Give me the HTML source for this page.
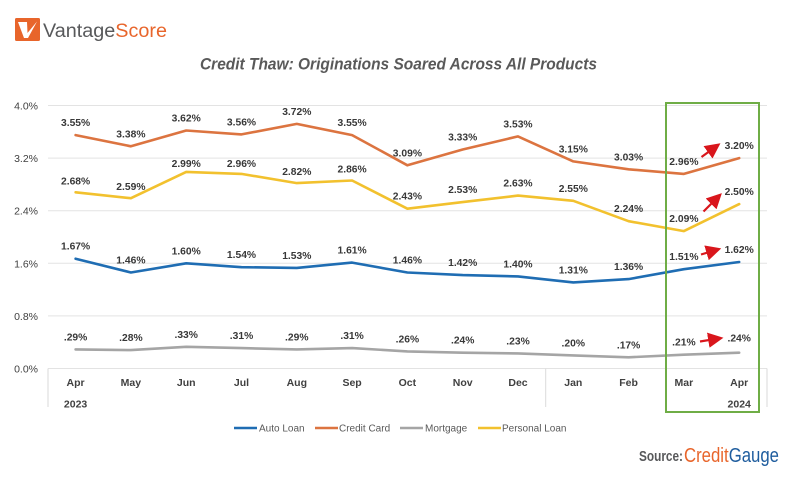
<!DOCTYPE html>
<html>
<head>
<meta charset="utf-8">
<style>
html,body{margin:0;padding:0;background:#fff;}
svg{display:block;}
text{font-family:"Liberation Sans",sans-serif;}
</style>
</head>
<body>
<svg width="794" height="480" viewBox="0 0 794 480" xmlns="http://www.w3.org/2000/svg">
<defs>
<marker id="ah" markerWidth="7" markerHeight="7" refX="4.5" refY="3.5" orient="auto" markerUnits="strokeWidth">
<path d="M0,0 L7,3.5 L0,7 z" fill="#d9161c"/>
</marker>
</defs>
<rect width="794" height="480" fill="#fff"/>

<!-- Logo -->
<rect x="15" y="18" width="25" height="23" rx="1.5" fill="#e8652b"/>
<path d="M18,22 L27,22 L27.5,33 L37,21.5 L28,38 L24,38 Z" fill="#fff"/>
<text x="43" y="37" font-size="19" fill="#58595b" textLength="124" lengthAdjust="spacingAndGlyphs">Vantage<tspan fill="#e8652b">Score</tspan></text>

<!-- Title -->
<text x="200" y="69.5" font-size="17" font-weight="bold" font-style="italic" fill="#595959" textLength="397" lengthAdjust="spacingAndGlyphs">Credit Thaw: Originations Soared Across All Products</text>

<!-- Gridlines -->
<g stroke="#e3e3e3" stroke-width="1">
<line x1="48" y1="105.5" x2="767" y2="105.5"/>
<line x1="48" y1="158.1" x2="767" y2="158.1"/>
<line x1="48" y1="210.7" x2="767" y2="210.7"/>
<line x1="48" y1="263.3" x2="767" y2="263.3"/>
<line x1="48" y1="315.9" x2="767" y2="315.9"/>
<line x1="48" y1="368.5" x2="767" y2="368.5"/>
</g>
<g stroke="#dadada" stroke-width="1">
<line x1="48" y1="368.5" x2="48" y2="407"/>
<line x1="545.7" y1="368.5" x2="545.7" y2="407"/>
<line x1="767" y1="368.5" x2="767" y2="407"/>
</g>

<!-- Y axis labels -->
<g font-size="10.5" fill="#404040" text-anchor="end">
<text x="38" y="109.5">4.0%</text>
<text x="38" y="162.1">3.2%</text>
<text x="38" y="214.7">2.4%</text>
<text x="38" y="267.3">1.6%</text>
<text x="38" y="319.9">0.8%</text>
<text x="38" y="372.5">0.0%</text>
</g>

<!-- Month labels -->
<g font-size="10.5" font-weight="bold" fill="#404040" text-anchor="middle">
<text x="75.6" y="386">Apr</text>
<text x="130.9" y="386">May</text>
<text x="186.2" y="386">Jun</text>
<text x="241.5" y="386">Jul</text>
<text x="296.8" y="386">Aug</text>
<text x="352.1" y="386">Sep</text>
<text x="407.4" y="386">Oct</text>
<text x="462.7" y="386">Nov</text>
<text x="518.0" y="386">Dec</text>
<text x="573.3" y="386">Jan</text>
<text x="628.6" y="386">Feb</text>
<text x="683.9" y="386">Mar</text>
<text x="739.2" y="386">Apr</text>
<text x="75.6" y="407.5">2023</text>
<text x="739.2" y="407.5">2024</text>
</g>

<!-- Series -->
<g fill="none" stroke-width="2.6" stroke-linejoin="round" stroke-linecap="round">
<polyline stroke="#a5a5a5" points="75.6,349.4 130.9,350.1 186.2,346.8 241.5,348.1 296.8,349.4 352.1,348.1 407.4,351.4 462.7,352.7 518.0,353.4 573.3,355.4 628.6,357.3 683.9,354.7 739.2,352.7"/>
<polyline stroke="#1f6db3" points="75.6,258.7 130.9,272.5 186.2,263.3 241.5,267.2 296.8,267.9 352.1,262.6 407.4,272.5 462.7,275.1 518.0,276.4 573.3,282.4 628.6,279.1 683.9,269.2 739.2,262.0"/>
<polyline stroke="#f2c12e" points="75.6,192.3 130.9,198.2 186.2,171.9 241.5,173.9 296.8,183.1 352.1,180.5 407.4,208.7 462.7,202.1 518.0,195.6 573.3,200.8 628.6,221.2 683.9,231.1 739.2,204.1"/>
<polyline stroke="#dc7440" points="75.6,135.1 130.9,146.3 186.2,130.5 241.5,134.4 296.8,123.9 352.1,135.1 407.4,165.3 462.7,149.5 518.0,136.4 573.3,161.4 628.6,169.3 683.9,173.9 739.2,158.1"/>
</g>

<!-- Data labels -->
<g font-size="10.3" font-weight="bold" fill="#383838" text-anchor="middle">
<!-- Credit card -->
<text x="75.6" y="126.1">3.55%</text>
<text x="130.9" y="137.3">3.38%</text>
<text x="186.2" y="121.5">3.62%</text>
<text x="241.5" y="125.4">3.56%</text>
<text x="296.8" y="114.9">3.72%</text>
<text x="352.1" y="126.1">3.55%</text>
<text x="407.4" y="156.3">3.09%</text>
<text x="462.7" y="140.5">3.33%</text>
<text x="518.0" y="127.4">3.53%</text>
<text x="573.3" y="152.4">3.15%</text>
<text x="628.6" y="160.3">3.03%</text>
<text x="683.9" y="164.9">2.96%</text>
<text x="739.2" y="149.1">3.20%</text>
<!-- Personal -->
<text x="75.6" y="184.3">2.68%</text>
<text x="130.9" y="190.2">2.59%</text>
<text x="186.2" y="166.9">2.99%</text>
<text x="241.5" y="166.9">2.96%</text>
<text x="296.8" y="175.1">2.82%</text>
<text x="352.1" y="172.5">2.86%</text>
<text x="407.4" y="199.7">2.43%</text>
<text x="462.7" y="193.1">2.53%</text>
<text x="518.0" y="186.6">2.63%</text>
<text x="573.3" y="191.8">2.55%</text>
<text x="628.6" y="212.2">2.24%</text>
<text x="683.9" y="222.1">2.09%</text>
<text x="739.2" y="195.1">2.50%</text>
<!-- Auto -->
<text x="75.6" y="249.7">1.67%</text>
<text x="130.9" y="263.5">1.46%</text>
<text x="186.2" y="254.3">1.60%</text>
<text x="241.5" y="258.2">1.54%</text>
<text x="296.8" y="258.9">1.53%</text>
<text x="352.1" y="253.6">1.61%</text>
<text x="407.4" y="263.5">1.46%</text>
<text x="462.7" y="266.1">1.42%</text>
<text x="518.0" y="267.4">1.40%</text>
<text x="573.3" y="273.4">1.31%</text>
<text x="628.6" y="270.1">1.36%</text>
<text x="683.9" y="260.2">1.51%</text>
<text x="739.2" y="253.0">1.62%</text>
<!-- Mortgage -->
<text x="75.6" y="340.4">.29%</text>
<text x="130.9" y="341.1">.28%</text>
<text x="186.2" y="337.8">.33%</text>
<text x="241.5" y="339.1">.31%</text>
<text x="296.8" y="340.4">.29%</text>
<text x="352.1" y="339.1">.31%</text>
<text x="407.4" y="342.4">.26%</text>
<text x="462.7" y="343.7">.24%</text>
<text x="518.0" y="344.4">.23%</text>
<text x="573.3" y="346.4">.20%</text>
<text x="628.6" y="348.3">.17%</text>
<text x="683.9" y="345.7">.21%</text>
<text x="739.2" y="341.5">.24%</text>
</g>

<!-- Red arrows -->
<g stroke="#d9161c" stroke-width="2.2" fill="none" marker-end="url(#ah)">
<line x1="701.5" y1="157" x2="716" y2="146.5"/>
<line x1="703.5" y1="211.5" x2="718" y2="197"/>
<line x1="701" y1="254.5" x2="716" y2="250"/>
<line x1="700" y1="341.5" x2="718" y2="338.6"/>
</g>

<!-- Highlight box -->
<rect x="666" y="103" width="93" height="309" fill="none" stroke="#6fad46" stroke-width="2"/>

<!-- Legend -->
<g stroke-width="2.6">
<line x1="234" y1="428" x2="257" y2="428" stroke="#1f6db3"/>
<line x1="315" y1="428" x2="338" y2="428" stroke="#dc7440"/>
<line x1="400" y1="428" x2="423" y2="428" stroke="#a5a5a5"/>
<line x1="478" y1="428" x2="501" y2="428" stroke="#f2c12e"/>
</g>
<g font-size="10" fill="#595959">
<text x="259" y="431.5">Auto Loan</text>
<text x="339" y="431.5">Credit Card</text>
<text x="425" y="431.5">Mortgage</text>
<text x="502" y="431.5">Personal Loan</text>
</g>

<!-- Source -->
<text x="639" y="461" font-size="15" font-weight="bold" fill="#58595b" textLength="44" lengthAdjust="spacingAndGlyphs">Source:</text>
<text x="684" y="462" font-size="20" textLength="95" lengthAdjust="spacingAndGlyphs"><tspan fill="#e8652b">Credit</tspan><tspan fill="#1f5d9e">Gauge</tspan></text>
</svg>
</body>
</html>
